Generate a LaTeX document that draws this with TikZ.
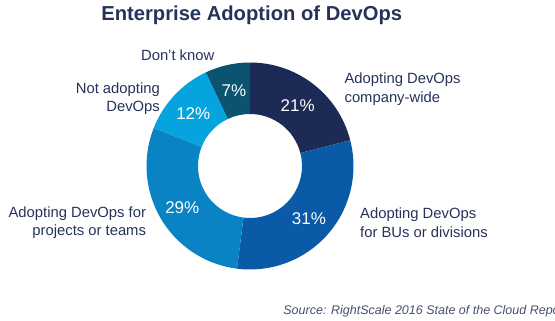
\documentclass[tikz,border=0pt]{standalone}
\usepackage{fontspec}
\setmainfont{Liberation Sans}
\usetikzlibrary{positioning}
\definecolor{devnavy}{HTML}{1C2A55}
\definecolor{devblue}{HTML}{0A5AA8}
\definecolor{devmid}{HTML}{0A83C5}
\definecolor{devsky}{HTML}{06A4DF}
\definecolor{devteal}{HTML}{0B5470}
\definecolor{devtext}{HTML}{26325A}
\definecolor{devsrc}{HTML}{45506F}

\begin{document}
\begin{tikzpicture}[x=1pt,y=1pt,
  lbl/.style={inner sep=0pt,text=devtext,font=\fontsize{14.8}{18.2}\selectfont},
  pct/.style={inner sep=0pt,text=white,font=\fontsize{17}{20}\selectfont}]
\useasboundingbox (0,0) rectangle (555,321);
\coordinate (c) at (250,155);
\foreach \a/\b/\col in {90/14.4/devnavy,14.4/-97.2/devblue,-97.2/-201.6/devmid,-201.6/-244.8/devsky,-244.8/-270/devteal}
  \fill[\col] ([shift={(\a:103.5pt)}]c) arc[start angle=\a,end angle=\b,radius=103.5pt]
    -- ([shift={(\b:52pt)}]c) arc[start angle=\b,end angle=\a,radius=52pt] -- cycle;
\node[inner sep=0pt,text=devtext,font=\fontsize{20.2}{24}\selectfont\bfseries] (title) at (251.7,305.3) {Enterprise Adoption of DevOps};
\node[lbl] (dontknow) at (177.7,266) {Don’t know};
\node[lbl,anchor=west,align=left] (companywide) at (344.4,231.8) {Adopting DevOps\\company-wide};
\node[lbl,anchor=east,align=right] (notadopting) at (160,222.7) {Not adopting\\DevOps};
\node[lbl,anchor=east,align=right] (projects) at (146.2,98.3) {Adopting DevOps for\\projects or teams};
\node[lbl,anchor=west,align=left] (divisions) at (360,98.3) {Adopting DevOps\\for BUs or divisions};
\node[pct] (p21) at (297.7,215.3) {21\%};
\node[pct] (p31) at (309,102.7) {31\%};
\node[pct] (p29) at (182.3,113.3) {29\%};
\node[pct] (p12) at (193.3,207) {12\%};
\node[pct] (p7) at (234,230) {7\%};
\node[inner sep=0pt,anchor=west,text=devsrc,font=\fontsize{12.5}{15}\selectfont\itshape] (source) at (283.2,9.3) {Source: RightScale 2016 State of the Cloud Report};
\end{tikzpicture}
\end{document}
